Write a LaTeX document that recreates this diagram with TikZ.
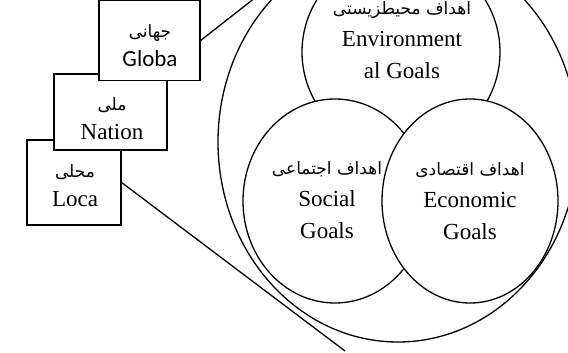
\documentclass[tikz,border=0pt]{standalone}
\usepackage{fontspec}
\setmainfont{Liberation Serif}
\newfontfamily\calibri{Carlito}
\newfontfamily\farsi[Script=Arabic]{DejaVu Sans}
\TeXXeTstate=1
\usetikzlibrary{shapes.geometric}

% Persian line, right to left
\newcommand{\fa}[1]{{\farsi\fontsize{8.5}{10}\selectfont\beginR #1\endR}}

\begin{document}
\begin{tikzpicture}[x=0.5pt, y=-0.5pt, line width=0.65pt,
    goal/.style={ellipse, draw, fill=white, inner sep=0pt},
    level/.style={rectangle, draw, fill=white, inner sep=0pt},
    txt/.style={align=center, font=\fontsize{11.5}{16}\selectfont},
    boxtxt/.style={align=center, font=\fontsize{11.5}{14.5}\selectfont}]
  \useasboundingbox (0,0) rectangle (568,353);
  \clip (0,0) rectangle (568,353);

  % sustainability ring and the three goal areas
  \node (outer) at (398,142) [goal, minimum width=180pt, minimum height=200pt] {};
  \node (env)   at (401,52)  [goal, minimum width=99pt,  minimum height=99pt]  {};
  \node (soc)   at (335,201) [goal, minimum width=92pt,  minimum height=102pt] {};
  \node (eco)   at (470,201) [goal, minimum width=88pt,  minimum height=102pt] {};

  \node (envtxt) at (402,40)  [txt] {\fa{اهداف محیطزیستی}\\Environment\\al Goals};
  \node (soctxt) at (327,200) [txt] {\fa{اهداف اجتماعی}\\Social\\Goals};
  \node (ecotxt) at (470,201) [txt] {\fa{اهداف اقتصادی}\\Economic\\Goals};

  % levels, local at the back
  \node (loc) at (74,182.5)   [level, minimum width=47pt,   minimum height=42.5pt] {};
  \node (loctxt) at (75,186)  [boxtxt] {\fa{محلی}\\Loca};
  \node (nat) at (110.5,112)  [level, minimum width=56.5pt, minimum height=38pt] {};
  \begin{scope}
    \clip (54,74) rectangle (167,140);
    \node (nattxt) at (112,119) [boxtxt] {\fa{ملی}\\Nation};
  \end{scope}
  \node (glb) at (149.5,40.5) [level, minimum width=50.5pt, minimum height=40pt] {};
  \node (glbtxt) at (150,46)  [boxtxt] {\fa{جهانی}\\{\calibri Globa}};

  \coordinate (gend) at (265,-10);
  \coordinate (lend) at (345,351);
  \draw (glb.east) -- (gend);
  \draw (loc.east) -- (lend);
\end{tikzpicture}
\end{document}
